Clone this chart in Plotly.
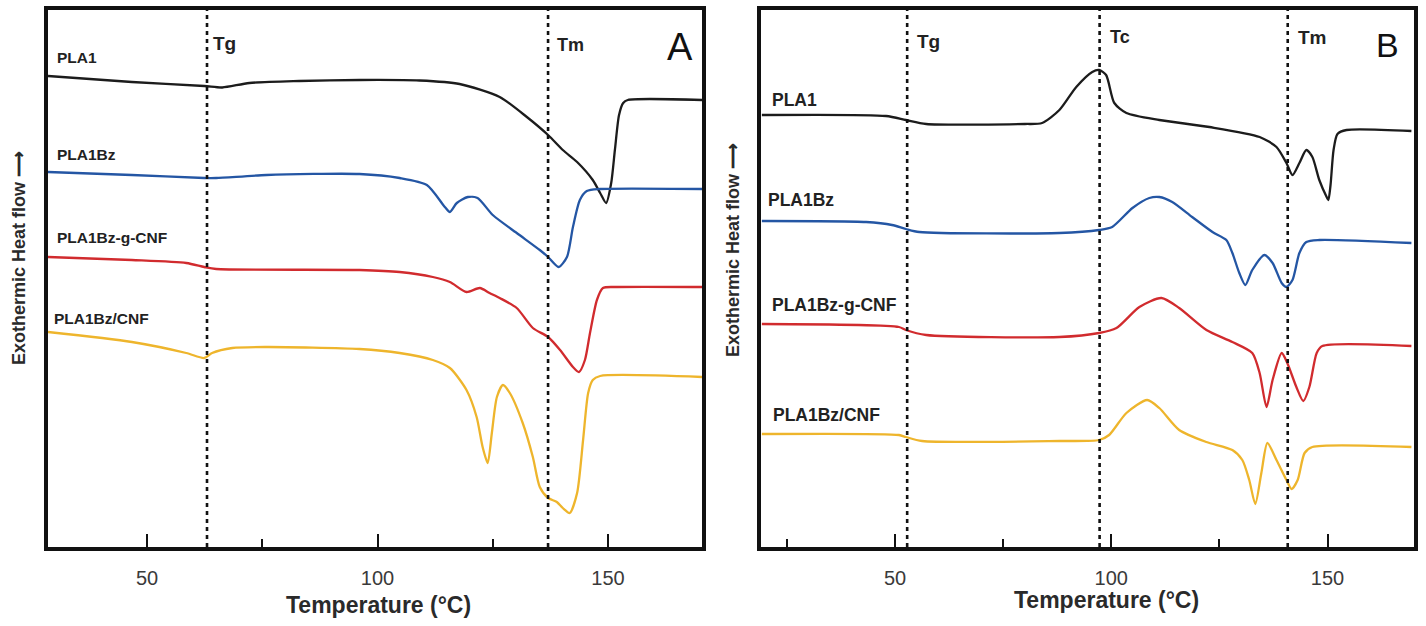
import plotly.graph_objects as go

W, H = 1426, 626

# ---------------- Panel A data (Temperature °C, heat flow a.u.) ----------------
a_pla1_t = [28.5, 46.7, 62.4, 66.3, 72.2, 83.0, 96.1, 109.1, 117.8, 126.5, 132.4, 137.0, 140.2,
            143.3, 146.7, 148.3, 149.6, 150.7, 151.5, 152.4, 153.3, 154.3, 170.4]
a_pla1_y = [471, 465, 461, 459.5, 464, 466, 467, 466.5, 463, 450, 430, 412, 397,
            385, 367, 354, 344, 364, 397, 432, 444, 447, 447]

a_bz_t = [28.5, 46.7, 62.4, 65.0, 75.9, 96.1, 104.8, 110.7, 114.6, 115.7, 117.2, 119.6,
          121.7, 125.0, 130.2, 135.2, 137.0, 139.3, 141.1, 142.4, 143.9, 145.4, 148.3, 170.4]
a_bz_y = [375, 372, 369, 369, 372, 373, 369, 362, 340, 335, 344, 350,
          349, 332, 314, 297, 290, 280, 290, 320, 347, 356, 358, 358]

a_bzg_t = [28.5, 46.7, 58.5, 62.4, 65.0, 96.1, 104.8, 112.0, 115.7, 119.3, 122.2, 124.3, 126.5,
           130.2, 133.7, 137.0, 139.6, 142.4, 143.7, 145.0, 146.1, 147.6, 148.9, 151.9, 170.4]
a_bzg_y = [290, 287, 284, 280, 278, 277, 275, 270, 265, 255, 259, 254, 249,
           239, 219, 210, 197, 180, 175, 187, 214, 247, 259, 260, 260]

a_bzc_t = [28.5, 46.7, 58.5, 62.4, 64.1, 68.5, 75.9, 96.1, 104.8, 112.0, 115.7, 119.3, 121.5,
           122.8, 123.9, 124.8, 125.9, 127.2, 128.7, 131.5, 133.7, 135.2, 137.0, 138.9, 140.2,
           141.7, 143.3, 144.6, 145.7, 146.7, 148.3, 170.4]
a_bzc_y = [215, 205, 194, 189, 194, 199, 200, 198, 194, 187, 179, 157, 130,
           100, 84, 114, 150, 162, 154, 124, 90, 60, 49, 45, 39,
           34, 54, 107, 154, 167, 171, 170]

# ---------------- Panel B data ----------------
b_pla1_t = [19.2, 47.9, 52.5, 57.2, 80.0, 84.0, 88.0, 91.9, 95.6, 97.2, 98.8, 100.7, 103.5, 111.1,
            122.7, 134.3, 138.2, 140.5, 141.9, 143.5, 145.1, 146.5, 148.1, 149.8, 150.2, 150.7,
            151.4, 152.3, 154.4, 169.4]
b_pla1_y = [432, 431, 427, 423, 423, 424, 437, 460, 475, 477, 472, 444, 434, 427,
            420, 410, 400, 384, 372, 384, 397, 390, 367, 350, 347, 362,
            397, 413, 417, 416]

b_bz_t = [19.2, 43.3, 49.3, 52.5, 55.6, 88.0, 97.2, 100.2, 104.9, 108.8, 111.1, 114.1, 118.7,
          123.4, 126.6, 128.0, 129.6, 131.0, 132.6, 135.4, 137.3, 139.4, 140.5, 141.9, 143.5,
          145.1, 148.1, 169.4]
b_bz_y = [326, 325, 322, 318, 315, 314, 317, 320, 339, 349, 350, 345, 330,
          315, 307, 294, 274, 262, 277, 292, 284, 264, 260, 267, 294,
          305, 307, 304]

b_bzg_t = [19.2, 50.9, 52.5, 57.2, 88.0, 97.2, 101.2, 106.5, 111.6, 115.7, 122.0, 128.0, 132.6,
           134.3, 135.9, 137.3, 139.4, 140.7, 142.8, 144.4, 145.8, 147.5, 148.8, 169.4]
b_bzg_y = [223, 220, 217, 212, 210, 214, 219, 240, 249, 239, 217, 205, 194,
           174, 140, 167, 194, 184, 160, 146, 160, 194, 201, 201]

b_bzc_t = [19.2, 50.9, 52.5, 56.25, 88.0, 97.2, 99.5, 103.5, 108.3, 111.1, 115.7, 122.0, 128.0,
           130.3, 131.9, 133.3, 134.7, 136.1, 138.2, 140.5, 141.7, 143.1, 144.7, 146.5, 169.4]
b_bzc_y = [113, 112, 110, 106, 106, 107, 112, 134, 147, 139, 117, 105, 97,
           87, 67, 43, 74, 104, 87, 67, 58, 67, 94, 100, 100]

series_names = ["PLA1", "PLA1Bz", "PLA1Bz-g-CNF", "PLA1Bz/CNF"]
series_colors = ["#1c1c1c", "#2456a4", "#d12b2e", "#eeb52c"]

# transitions (°C)
a_transitions = {"Tg": 63.0, "Tm": 137.0}
b_transitions = {"Tg": 52.8, "Tc": 97.3, "Tm": 140.8}

x_range_a = [28.5, 170.4]
x_range_b = [19.0, 170.0]
y_range = [0, 537]
tick_vals = [50, 100, 150]

fig = go.Figure()

def px(x):
    return x / W

def py(y):
    return 1 - y / H

a_data = [(a_pla1_t, a_pla1_y), (a_bz_t, a_bz_y), (a_bzg_t, a_bzg_y), (a_bzc_t, a_bzc_y)]
b_data = [(b_pla1_t, b_pla1_y), (b_bz_t, b_bz_y), (b_bzg_t, b_bzg_y), (b_bzc_t, b_bzc_y)]

for (t, y), name, col in zip(a_data, series_names, series_colors):
    fig.add_trace(go.Scatter(x=t, y=y, mode="lines", name=name, xaxis="x", yaxis="y",
                             line=dict(color=col, width=2.3, shape="spline", smoothing=0.7),
                             showlegend=False))
for (t, y), name, col in zip(b_data, series_names, series_colors):
    fig.add_trace(go.Scatter(x=t, y=y, mode="lines", name=name, xaxis="x2", yaxis="y2",
                             line=dict(color=col, width=2.3, shape="spline", smoothing=0.7),
                             showlegend=False))

dom_y = [py(547), py(10)]
axis_common = dict(
    showline=True, linecolor="#111", linewidth=4, mirror=True, showgrid=False, zeroline=False,
)
xcommon = dict(axis_common, ticks="inside", ticklen=13, tickwidth=2, tickcolor="#111",
               tickvals=tick_vals, ticklabelstandoff=10,
               tickfont=dict(family="Liberation Sans, Arial", size=20, color="#3a3a3a"),
               minor=dict(ticks="inside", ticklen=8, tickwidth=2, tickcolor="#111",
                          tickvals=[25, 75, 125]))
ycommon = dict(axis_common, showticklabels=False, ticks="", range=y_range)

fig.update_layout(
    width=W, height=H, margin=dict(l=0, r=0, t=0, b=0),
    paper_bgcolor="white", plot_bgcolor="white",
    xaxis=dict(xcommon, domain=[px(48), px(702)], range=x_range_a, anchor="y"),
    yaxis=dict(ycommon, domain=dom_y, anchor="x"),
    xaxis2=dict(xcommon, domain=[px(761), px(1414)], range=x_range_b, anchor="y2"),
    yaxis2=dict(ycommon, domain=dom_y, anchor="x2"),
)

dash_line = dict(color="#111", width=2.6, dash="4px,4px")
for k, v in a_transitions.items():
    fig.add_shape(type="line", xref="x", yref="y domain", x0=v, x1=v, y0=0, y1=1, line=dash_line)
for k, v in b_transitions.items():
    fig.add_shape(type="line", xref="x2", yref="y2 domain", x0=v, x1=v, y0=0, y1=1, line=dash_line)

ann = []
def text(x, y, s, size, bold=True, xanchor="left", angle=0, color="#222", family="Liberation Sans, Arial"):
    t = f"<b>{s}</b>" if bold else s
    ann.append(dict(x=px(x), y=py(y), xref="paper", yref="paper", text=t, showarrow=False,
                    xanchor=xanchor, yanchor="middle", textangle=angle,
                    font=dict(family=family, size=size, color=color)))

# transition labels
text(211, 43, "Tg", 19)
text(555, 45, "Tm", 18)
text(915, 41, "Tg", 19)
text(1108, 37, "Tc", 18)
text(1296, 37, "Tm", 19)
# panel letters
text(680, 47, "A", 38, bold=False, xanchor="center", color="#111")
text(1387, 45, "B", 34, bold=False, xanchor="center", color="#111")

# curve labels panel A
for (x, y), s in zip([(55, 58), (55, 155), (55, 237), (52, 318)], series_names):
    text(x, y, s, 15.5)
# curve labels panel B
for (x, y), s in zip([(770, 100), (766, 200), (770, 305), (771, 415)], series_names):
    text(x, y, s, 17.5)

# axis titles
text(379, 605, "Temperature (°C)", 23, xanchor="center", color="#2a2a2a")
text(1106, 600, "Temperature (°C)", 23, xanchor="center", color="#2a2a2a")
text(19, 258, "Exothermic Heat flow ⟶", 18, xanchor="center", angle=-90, color="#2a2a2a")
text(733, 250, "Exothermic Heat flow ⟶", 18, xanchor="center", angle=-90, color="#2a2a2a")

fig.update_layout(annotations=ann)
fig.write_html("out.html")
